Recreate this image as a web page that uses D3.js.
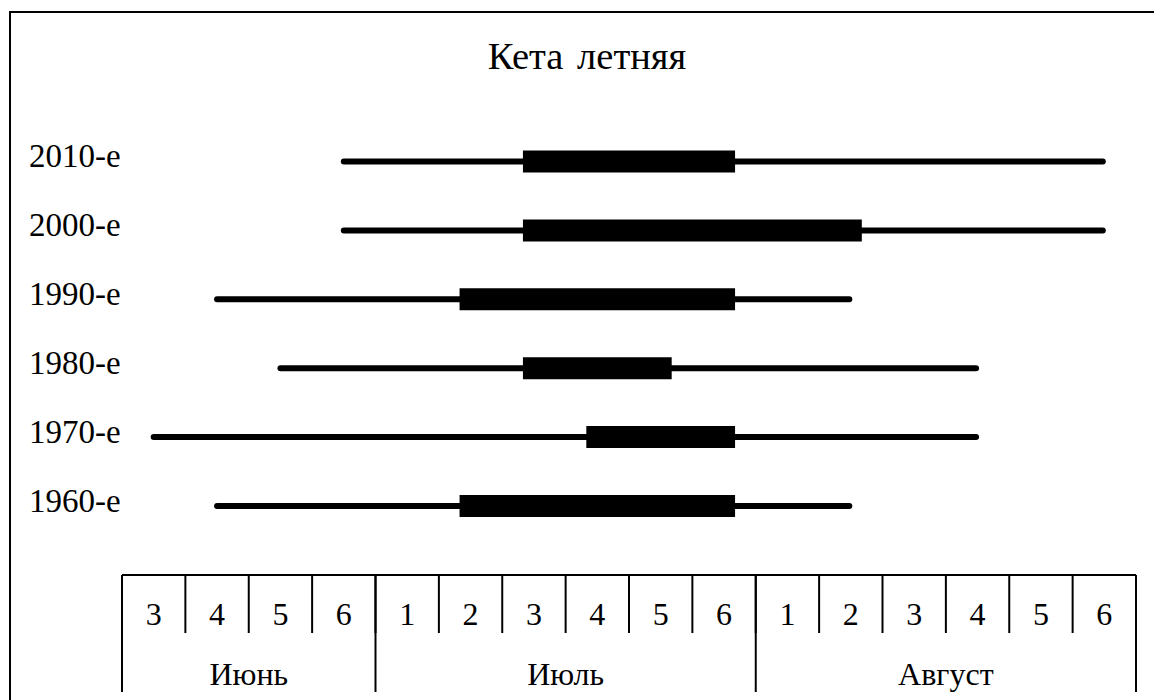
<!DOCTYPE html>
<html><head><meta charset="utf-8">
<script src="https://cdn.jsdelivr.net/npm/d3@7"></script>
<style>html,body{margin:0;padding:0;background:#fff;overflow:hidden}</style>
</head><body>
<svg id="chart" width="1154" height="700"></svg>
<script>
const title = "Кета летняя";
const months = ["Июнь", "Июль", "Август"];
const pentadMonth = ["Июнь","Июнь","Июнь","Июнь","Июль","Июль","Июль","Июль","Июль","Июль","Август","Август","Август","Август","Август","Август"];
const pentadNum = ["3","4","5","6","1","2","3","4","5","6","1","2","3","4","5","6"];
const pentads = pentadNum.map((n,i)=>pentadMonth[i]+"-"+n);
const decades = ["2010-е","2000-е","1990-е","1980-е","1970-е","1960-е"];
// run period (thin line) and peak period (thick bar), as pentad keys
const runStart  = ["Июнь-6","Июнь-6","Июнь-4","Июнь-5","Июнь-3","Июнь-4"];
const runEnd    = ["Август-6","Август-6","Август-2","Август-4","Август-4","Август-2"];
const peakStart = ["Июль-3","Июль-3","Июль-2","Июль-3","Июль-4","Июль-2"];
const peakEnd   = ["Июль-6","Август-2","Июль-6","Июль-5","Июль-6","Июль-6"];

const svg = d3.select("#chart");
const font = "'Liberation Serif','Times New Roman',serif";

// frame
svg.append("rect").attr("x",10).attr("y",12).attr("width",1200).attr("height",720)
  .attr("fill","none").attr("stroke","#000").attr("stroke-width",2);

svg.append("text").attr("x",587).attr("y",69).attr("text-anchor","middle")
  .attr("font-family",font).attr("font-size",38.5).attr("word-spacing",4).text(title);

const x = d3.scaleBand().domain(pentads).range([122,1136]).padding(0);
const cx = k => x(k) + x.bandwidth()/2;
const y = d3.scalePoint().domain(decades).range([161.5,506]);

const rows = decades.map((d,i)=>({d, rs:runStart[i], re:runEnd[i], ps:peakStart[i], pe:peakEnd[i]}));

const g = svg.append("g");
g.selectAll("line.run").data(rows).join("line").attr("class","run")
  .attr("x1",r=>cx(r.rs)).attr("x2",r=>cx(r.re)-1.5)
  .attr("y1",r=>y(r.d)).attr("y2",r=>y(r.d))
  .attr("stroke","#000").attr("stroke-width",6).attr("stroke-linecap","round");
g.selectAll("line.peak").data(rows).join("line").attr("class","peak")
  .attr("x1",r=>cx(r.ps)).attr("x2",r=>cx(r.pe))
  .attr("y1",r=>y(r.d)).attr("y2",r=>y(r.d))
  .attr("stroke","#000").attr("stroke-width",22).attr("stroke-linecap","square");
g.selectAll("text.lab").data(rows).join("text").attr("class","lab")
  .attr("x",29).attr("y",r=>y(r.d)+5.5)
  .attr("font-family",font).attr("font-size",33).text(r=>r.d);

// bottom axis table
const axTop = 575, axMid = 633, axBot = 692;
const ax = svg.append("g").attr("stroke","#000").attr("stroke-width",2);
ax.append("line").attr("x1",x.range()[0]).attr("x2",x.range()[1]).attr("y1",axTop).attr("y2",axTop);
// pentad separators
ax.selectAll("line.sep").data(pentads.slice(1)).join("line").attr("class","sep")
  .attr("x1",k=>x(k)).attr("x2",k=>x(k)).attr("y1",axTop).attr("y2",axMid);
// month boundaries
const monthStarts = months.map(m=>pentads[pentadMonth.indexOf(m)]);
const monthEnds = months.map(m=>pentads[pentadMonth.lastIndexOf(m)]);
const bounds = [x(monthStarts[0])].concat(monthEnds.map(k=>x(k)+x.bandwidth()));
ax.selectAll("line.mb").data(bounds).join("line").attr("class","mb")
  .attr("x1",v=>v).attr("x2",v=>v).attr("y1",axTop).attr("y2",axBot);

svg.append("g").selectAll("text").data(pentads).join("text")
  .attr("x",k=>cx(k)).attr("y",625).attr("text-anchor","middle")
  .attr("font-family",font).attr("font-size",32).text((k,i)=>pentadNum[i]);
svg.append("g").selectAll("text").data(months).join("text")
  .attr("x",(m,i)=>(x(monthStarts[i]) + x(monthEnds[i]) + x.bandwidth())/2).attr("y",685)
  .attr("text-anchor","middle").attr("font-family",font).attr("font-size",32).text(m=>m);
</script>
</body></html>
